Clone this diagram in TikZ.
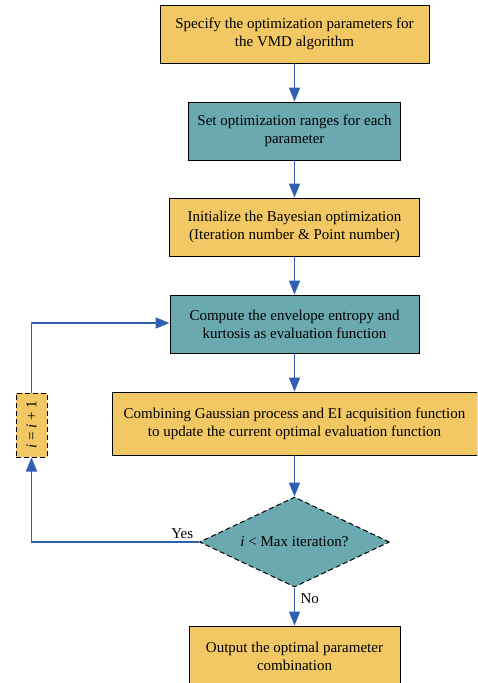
\documentclass[tikz,border=0pt]{standalone}
\usepackage{fontspec}
\setmainfont{Liberation Serif}
\usetikzlibrary{arrows.meta,shapes.geometric}
\definecolor{boxorange}{HTML}{F2C865}
\definecolor{boxteal}{HTML}{6BA9B1}
\definecolor{arrowblue}{HTML}{2F5FB3}
\begin{document}
\begin{tikzpicture}[x=1pt,y=1pt,
  font=\fontsize{15}{18}\selectfont,
  procbox/.style={draw=black,line width=0.9pt,align=center,inner sep=0pt},
  orangebox/.style={procbox,fill=boxorange},
  tealbox/.style={procbox,fill=boxteal},
  dashbox/.style={draw=black,dash pattern=on 5pt off 3pt,line width=1pt},
  conn/.style={arrowblue,line width=1.6pt,-{Triangle[length=14pt,width=11pt]}}]
\useasboundingbox (0,0) rectangle (477,-683);
\clip (0,0) rectangle (477,-683);
\node[orangebox,minimum width=269pt,minimum height=58pt] (b1) at (294.5,-34)
  {Specify the optimization parameters for\\the VMD algorithm};
\node[tealbox,minimum width=212pt,minimum height=58pt] (b2) at (294.5,-131)
  {Set optimization ranges for each\\parameter};
\node[orangebox,minimum width=250pt,minimum height=58pt] (b3) at (294.5,-227)
  {Initialize the Bayesian optimization\\(Iteration number \& Point number)};
\node[tealbox,minimum width=249pt,minimum height=58pt] (b4) at (294.5,-324)
  {Compute the envelope entropy and\\kurtosis as evaluation function};
\node[orangebox,minimum width=365pt,minimum height=63pt] (b5) at (294.5,-423.5)
  {Combining Gaussian process and EI acquisition function\\to update the current optimal evaluation function};
\node[dashbox,fill=boxteal,diamond,aspect=2.1,
  minimum width=190pt,minimum height=90pt,inner sep=0pt] (d) at (294.5,-542)
  {\textit{i} < Max iteration?};
\node[orangebox,minimum width=211pt,minimum height=60pt] (b6) at (294.5,-656)
  {Output the optimal parameter\\combination};
\node[dashbox,fill=boxorange,minimum width=31pt,
  minimum height=64pt,inner sep=0pt] (inc) at (31.5,-425)
  {\rotatebox{90}{\textit{i} = \textit{i} + 1}};
\coordinate (lb) at (31.5,-542);
\coordinate (lt) at (31.5,-323);
\draw[conn] (b1) -- (b2);
\draw[conn] (b2) -- (b3);
\draw[conn] (b3) -- (b4);
\draw[conn] (b4) -- (b5);
\draw[conn] (b5) -- (d);
\draw[conn] (d.south) -- node[right,pos=0.3,xshift=2pt,text=black]{No} (b6);
\draw[conn] (d.west) -- node[above,pos=0.1,yshift=-1pt,text=black]{Yes} (lb) -- (inc.south);
\draw[conn] (inc.north) -- (lt) -- (lt -| b4.west);
\end{tikzpicture}
\end{document}
